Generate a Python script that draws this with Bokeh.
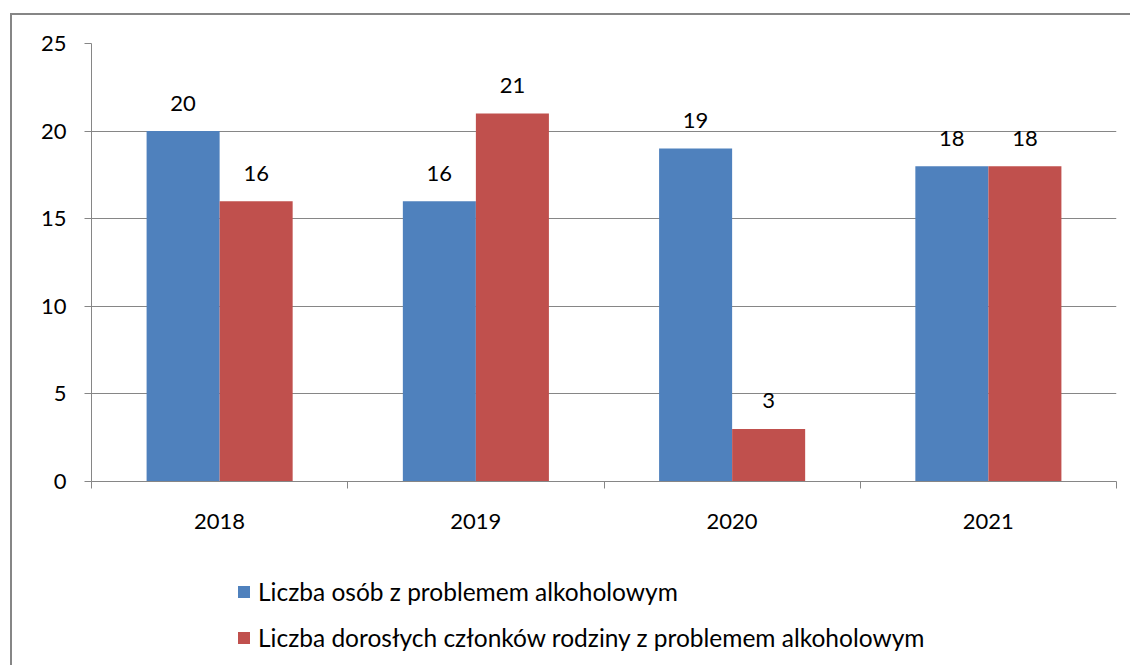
from bokeh.plotting import figure
from bokeh.layouts import column
from bokeh.models import (Range1d, FixedTicker, Legend, LegendItem, ColumnDataSource,
                          InlineStyleSheet)
from bokeh.embed import file_html
from bokeh.resources import INLINE
from bokeh.core.properties import value

years = ["2018", "2019", "2020", "2021"]
persons = [20, 16, 19, 18]
family = [16, 21, 3, 18]
series_names = ["Liczba osób z problemem alkoholowym",
                "Liczba dorosłych członków rodziny z problemem alkoholowym"]
y_ticks = [0, 5, 10, 15, 20, 25]

FONT = "Lato"
FS = "22px"
LFS = "24.5px"
GRAY = "#868686"
BLUE = "#4F81BD"
RED = "#C0504D"
W = 1130
H1, H2 = 540, 125

idx = list(range(len(years)))
bw = 0.285
src = ColumnDataSource(dict(
    xb=[i + 0.5 - bw / 2 for i in idx],
    xr=[i + 0.5 + bw / 2 for i in idx],
    persons=persons, family=family,
    lp=[str(v) for v in persons], lf=[str(v) for v in family]))

p = figure(width=W, height=H1, output_backend="svg", toolbar_location=None,
           x_range=Range1d(0, len(years)), y_range=Range1d(0, 25),
           min_border_left=91, min_border_right=W - 1116, min_border_top=43,
           min_border_bottom=H1 - 481)
p.outline_line_color = None
p.background_fill_color = "white"
p.border_fill_color = "white"

rb = p.vbar(x="xb", top="persons", width=bw, bottom=0, source=src, fill_color=BLUE, line_color=None)
rr = p.vbar(x="xr", top="family", width=bw, bottom=0, source=src, fill_color=RED, line_color=None)

for xc, yc, tc in (("xb", "persons", "lp"), ("xr", "family", "lf")):
    p.text(x=xc, y=yc, text=tc, source=src, text_align="center", text_baseline="middle",
           y_offset=-28, text_font=value(FONT), text_font_size=FS, text_color="black")

# x axis: labels at category centres, tick marks at category boundaries
xa = p.xaxis[0]
xa.ticker = FixedTicker(ticks=[i + 0.5 for i in idx], minor_ticks=list(range(len(years) + 1)))
xa.major_label_overrides = {i + 0.5: years[i] for i in idx}
xa.major_tick_line_color = None
xa.major_tick_out = 7
xa.major_tick_in = 0
xa.minor_tick_line_color = GRAY
xa.minor_tick_out = 7
xa.minor_tick_in = 0
xa.axis_line_color = GRAY
xa.major_label_standoff = 25
xa.major_label_text_font = FONT
xa.major_label_text_font_size = FS
xa.major_label_text_color = "black"

ya = p.yaxis[0]
ya.ticker = FixedTicker(ticks=y_ticks)
ya.major_tick_out = 7
ya.major_tick_in = 0
ya.major_tick_line_color = GRAY
ya.minor_tick_line_color = None
ya.axis_line_color = GRAY
ya.major_label_standoff = 18
ya.major_label_text_font = FONT
ya.major_label_text_font_size = FS
ya.major_label_text_color = "black"

p.xgrid.visible = False
p.ygrid.ticker = FixedTicker(ticks=y_ticks)
p.ygrid.grid_line_color = GRAY

# legend area (separate figure below the chart; its frame is aligned with the chart's)
q = figure(width=W, height=H2, output_backend="svg", toolbar_location=None,
           x_axis_type=None, y_axis_type=None, min_border=0,
           x_range=Range1d(0, 1), y_range=Range1d(0, 1))
q.outline_line_color = None
q.grid.visible = False
q.background_fill_color = "white"
q.border_fill_color = "white"
# zero-height proxies: they draw nothing but give the legend its colour swatches
lb = q.vbar(x=[0.5], top=[0], bottom=0, width=0.1, fill_color=BLUE, line_color=None)
lr = q.vbar(x=[0.5], top=[0], bottom=0, width=0.1, fill_color=RED, line_color=None)

legend = Legend(items=[LegendItem(label=series_names[0], renderers=[lb]),
                       LegendItem(label=series_names[1], renderers=[lr])],
                location=(145, 13), orientation="vertical",
                glyph_width=15, glyph_height=15, label_height=30, spacing=16,
                label_standoff=7, padding=0, margin=0,
                border_line_color=None, background_fill_alpha=0,
                label_text_font=FONT, label_text_font_size=LFS, label_text_color="black")
q.add_layout(legend)

frame_css = InlineStyleSheet(css="""
:host { position: relative; }
:host::after {
  content: "";
  position: absolute;
  left: 10px; top: 13px; right: 0; bottom: 0;
  border-left: 2px solid #868686;
  border-top: 2px solid #868686;
  pointer-events: none;
}
""")

layout = column(p, q, spacing=0, stylesheets=[frame_css])

open("out.html", "w").write(file_html(layout, INLINE))
